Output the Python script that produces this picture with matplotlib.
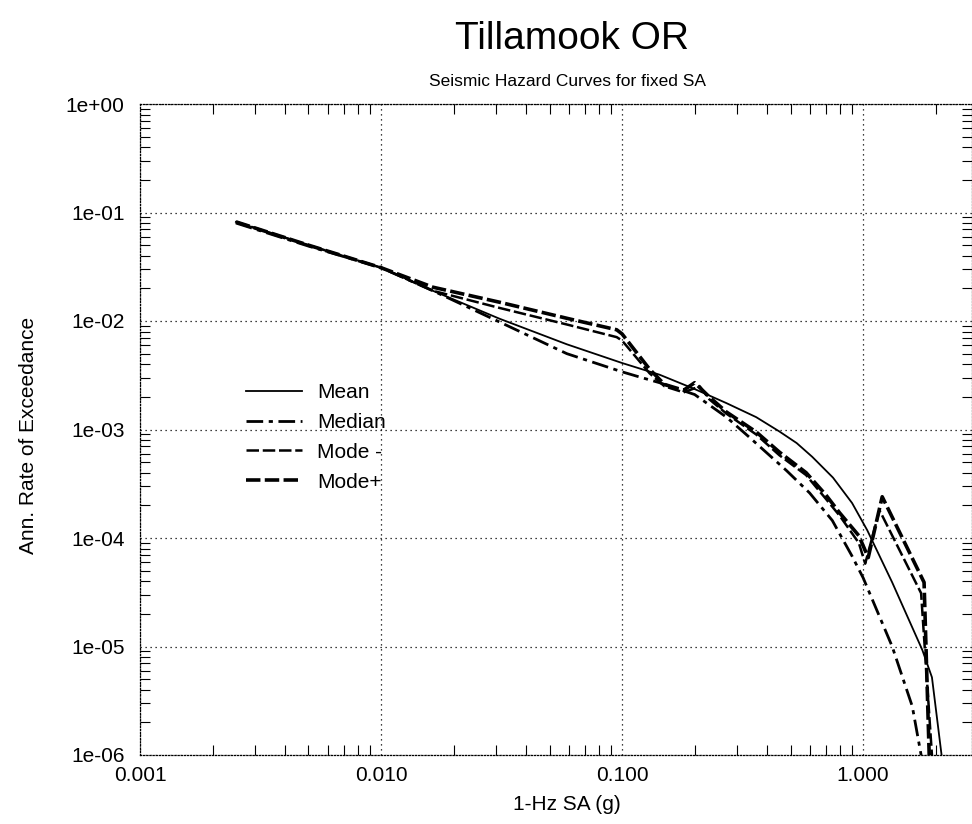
import numpy as np
import matplotlib
matplotlib.use('Agg')
import matplotlib.pyplot as plt
from matplotlib.ticker import LogLocator, FixedLocator, FixedFormatter, NullFormatter

plt.rcParams['font.family'] = ['Liberation Sans', 'DejaVu Sans']

# Hazard curves
sa_mean = [0.0025, 0.005, 0.01, 0.0164, 0.031, 0.059, 0.1, 0.143, 0.2, 0.271,
           0.36, 0.449, 0.53, 0.615, 0.75, 0.9, 1.04, 1.32, 1.76, 1.93, 2.11, 2.16]
rate_mean = [0.082, 0.050, 0.031, 0.019, 0.0105, 6.1e-3, 4.1e-3, 3.2e-3, 2.36e-3, 1.75e-3,
             1.30e-3, 9.6e-4, 7.5e-4, 5.6e-4, 3.6e-4, 2.1e-4, 1.18e-4, 3.9e-5, 9.3e-6, 5.2e-6, 1.05e-6, 7e-7]

sa_median = [0.0025, 0.005, 0.01, 0.0164, 0.031, 0.059, 0.1, 0.118, 0.143, 0.2, 0.271,
             0.337, 0.48, 0.6, 0.745, 0.9, 1.0, 1.32, 1.6, 1.74, 1.78]
rate_median = [0.080, 0.049, 0.031, 0.019, 0.0098, 5.0e-3, 3.4e-3, 3.05e-3, 2.7e-3, 2.1e-3, 1.3e-3,
               8.5e-4, 4.2e-4, 2.6e-4, 1.45e-4, 6.8e-5, 4.3e-5, 1.0e-5, 2.8e-6, 1.0e-6, 7e-7]

sa_mode_minus = [0.0025, 0.005, 0.01, 0.0164, 0.031, 0.06, 0.095, 0.1, 0.13, 0.15, 0.18,
                 0.21, 0.23, 0.271, 0.36, 0.449, 0.58, 0.70, 0.80, 0.96, 1.02, 1.17, 1.74, 1.93, 1.95]
rate_mode_minus = [0.082, 0.050, 0.031, 0.019, 0.0132, 9.2e-3, 7.1e-3, 6.6e-3, 3.3e-3, 2.5e-3, 2.2e-3,
                   2.5e-3, 1.9e-3, 1.4e-3, 9.0e-4, 5.8e-4, 3.8e-4, 2.3e-4, 1.6e-4, 9.0e-5, 5.8e-5, 1.8e-4,
                   3.1e-5, 1.0e-6, 7e-7]

sa_mode_plus = [0.0025, 0.005, 0.01, 0.0164, 0.031, 0.06, 0.095, 0.1, 0.13, 0.15, 0.18,
                0.2, 0.23, 0.271, 0.36, 0.449, 0.58, 0.70, 0.80, 0.96, 1.05, 1.2, 1.79, 1.88, 1.9]
rate_mode_plus = [0.082, 0.050, 0.031, 0.0205, 0.0149, 0.0105, 8.3e-3, 7.6e-3, 3.6e-3, 2.6e-3, 2.3e-3,
                  2.7e-3, 2.0e-3, 1.45e-3, 9.5e-4, 6.2e-4, 4.0e-4, 2.5e-4, 1.7e-4, 1.05e-4, 6.6e-5, 2.4e-4,
                  3.9e-5, 1.0e-6, 7e-7]

x_ticks = [0.001, 0.01, 0.1, 1.0]
x_labels = ['0.001', '0.010', '0.100', '1.000']
y_ticks = [1e-6, 1e-5, 1e-4, 1e-3, 1e-2, 1e-1, 1e0]
y_labels = ['1e-06', '1e-05', '1e-04', '1e-03', '1e-02', '1e-01', '1e+00']

W, H = 972, 824
fig = plt.figure(figsize=(W / 100, H / 100), dpi=100)
ax = fig.add_axes([140 / W, (H - 755) / H, (972 - 140) / W, (755 - 104) / H])

ax.plot(sa_mean, rate_mean, color='black', lw=1.3, label='Mean')
ax.plot(sa_median, rate_median, color='black', lw=2.0, dashes=(6, 2, 1.5, 2), label='Median')
ax.plot(sa_mode_minus, rate_mode_minus, color='black', lw=1.8, dashes=(5, 1.5), label='Mode -')
ax.plot(sa_mode_plus, rate_mode_plus, color='black', lw=2.6, dashes=(4, 1.2), label='Mode+')

ax.set_xscale('log')
ax.set_yscale('log')
ax.set_xlim(1e-3, 10 ** ((972 - 863) / 241.3))
ax.set_ylim(1e-6, 1.0)

ax.xaxis.set_major_locator(FixedLocator(x_ticks))
ax.xaxis.set_major_formatter(FixedFormatter(x_labels))
ax.yaxis.set_major_locator(FixedLocator(y_ticks))
ax.yaxis.set_major_formatter(FixedFormatter(y_labels))
ax.xaxis.set_minor_locator(LogLocator(base=10, subs=np.arange(2, 10), numticks=20))
ax.yaxis.set_minor_locator(LogLocator(base=10, subs=np.arange(2, 10), numticks=20))
ax.xaxis.set_minor_formatter(NullFormatter())
ax.yaxis.set_minor_formatter(NullFormatter())

ax.tick_params(which='both', direction='in', top=True, right=True, labelsize=15, width=0.8)
ax.tick_params(which='major', length=0)
ax.tick_params(axis='y', which='major', pad=11)
ax.tick_params(axis='x', which='major', pad=8)
ax.tick_params(which='minor', length=7)
ax.grid(True, which='major', color='black', linestyle=(0, (1, 3)), linewidth=0.9)

for s in ax.spines.values():
    s.set_linestyle((0, (1, 1.5)))
    s.set_linewidth(0.9)

fig.text(567 / W, 1 - 805 / H, '1-Hz SA (g)', fontsize=15, ha='center', va='center')
fig.text(28 / W, 1 - 435 / H, 'Ann. Rate of Exceedance', fontsize=15, rotation=90,
         ha='center', va='center')

fig.text(572 / W, 1 - 39 / H, 'Tillamook OR', fontsize=28, ha='center', va='center')
fig.text(567 / W, 1 - 81 / H, 'Seismic Hazard Curves for fixed SA', fontsize=12.5, ha='center', va='center')

ax.legend(loc='upper left', bbox_to_anchor=(246 / W, 1 - 383 / H), bbox_transform=fig.transFigure,
          frameon=False, fontsize=15, handlelength=2.7, handletextpad=0.7, labelspacing=0.52,
          borderpad=0, borderaxespad=0)

fig.savefig('out.png', dpi=100)
